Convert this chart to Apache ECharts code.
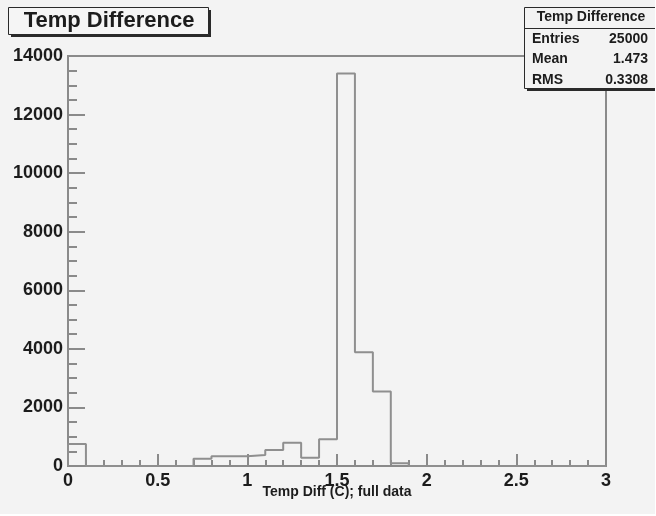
<!DOCTYPE html>
<html>
<head>
<meta charset="utf-8">
<script src="https://cdn.jsdelivr.net/npm/echarts@6/dist/echarts.min.js"></script>
<style>
  html, body { margin: 0; padding: 0; background: #ffffff; }
  #chart { width: 655px; height: 514px; background: #f3f3f3; }
</style>
</head>
<body>
<div id="chart"></div>
<script>
// ---- data ----
const histTitle = 'Temp Difference';
const xAxisTitle = 'Temp Diff (C); full data';
const binLow = 0;
const binHigh = 3;
const binCounts = [
  750, 0, 0, 0, 0, 0, 0, 250, 330, 330,
  375, 546, 796, 284, 912, 13400, 3880, 2540, 90, 0,
  0, 0, 0, 0, 0, 0, 0, 0, 0, 0
];
const xTicks = [0, 0.5, 1, 1.5, 2, 2.5, 3];
const yTicks = [0, 2000, 4000, 6000, 8000, 10000, 12000, 14000];
const statsLabels = ['Entries', 'Mean', 'RMS'];
const statsValues = ['25000', '1.473', '0.3308'];

// ---- build histogram outline from bins ----
const nBins = binCounts.length;
const binW = (binHigh - binLow) / nBins;
const outline = [[binLow, 0]];
for (let i = 0; i < nBins; i++) {
  outline.push([+(binLow + i * binW).toFixed(6), binCounts[i]]);
}
outline.push([binHigh, 0]);

const FONT = '"Liberation Sans", Arial, Helvetica, sans-serif';
const TXT = '#1c1c1c';
const FRAME = '#8a8a8a';

const chart = echarts.init(document.getElementById('chart'), null, { renderer: 'canvas' });

const statsGraphics = [];
statsLabels.forEach((lab, i) => {
  const yc = 40 + i * 20.5;
  statsGraphics.push({
    type: 'text', left: 532, top: yc - 8, z: 102,
    style: { text: lab, font: 'bold 14px ' + FONT, fill: TXT }
  });
  statsGraphics.push({
    type: 'text', right: 7, top: yc - 8, z: 102,
    style: { text: statsValues[i], font: 'bold 14px ' + FONT, fill: TXT, textAlign: 'right' }
  });
});

chart.setOption({
  animation: false,
  backgroundColor: '#f3f3f3',
  grid: {
    left: 68, right: 49, top: 56, bottom: 48,
    show: true, borderColor: FRAME, borderWidth: 2, backgroundColor: 'transparent'
  },
  xAxis: {
    type: 'value',
    min: xTicks[0], max: xTicks[xTicks.length - 1],
    interval: xTicks[1] - xTicks[0],
    name: xAxisTitle,
    nameLocation: 'middle',
    nameGap: 19,
    nameMoveOverlap: false,
    nameTextStyle: { fontFamily: FONT, fontWeight: 'bold', fontSize: 14, color: TXT, padding: [0, 0, 0, 0] },
    axisLine: { show: true, onZero: false, lineStyle: { color: FRAME, width: 2 } },
    axisTick: { show: true, inside: true, length: 12, lineStyle: { color: FRAME, width: 2 } },
    minorTick: { show: true, splitNumber: 5, length: 6, lineStyle: { color: FRAME, width: 2 } },
    splitLine: { show: false },
    axisLabel: {
      margin: 6, fontFamily: FONT, fontWeight: 'bold', fontSize: 18, color: TXT,
      formatter: v => String(v)
    }
  },
  yAxis: {
    type: 'value',
    min: yTicks[0], max: yTicks[yTicks.length - 1],
    interval: yTicks[1] - yTicks[0],
    axisLine: { show: true, onZero: false, lineStyle: { color: FRAME, width: 2 } },
    axisTick: { show: true, inside: true, length: 17, lineStyle: { color: FRAME, width: 2 } },
    minorTick: { show: true, splitNumber: 4, length: 9, lineStyle: { color: FRAME, width: 2 } },
    splitLine: { show: false },
    axisLabel: {
      margin: 5, fontFamily: FONT, fontWeight: 'bold', fontSize: 18, color: TXT,
      formatter: v => String(v)
    }
  },
  series: [{
    type: 'line',
    step: 'end',
    data: outline,
    symbol: 'none',
    lineStyle: { color: '#8f8f8f', width: 2 },
    z: 3
  }],
  graphic: [
    // title box
    { type: 'rect', shape: { x: 11, y: 10, width: 200, height: 27 }, style: { fill: '#2a2a2a' }, z: 100 },
    { type: 'rect', shape: { x: 8.5, y: 7.5, width: 200, height: 27 }, style: { fill: '#f5f5f5', stroke: '#2a2a2a', lineWidth: 1 }, z: 101 },
    { type: 'text', x: 109, y: 21, z: 102,
      style: { text: histTitle, font: 'bold 22px ' + FONT, fill: TXT, textAlign: 'center', textVerticalAlign: 'middle' } },
    // stats box
    { type: 'rect', shape: { x: 527, y: 10, width: 140, height: 81 }, style: { fill: '#2a2a2a' }, z: 100 },
    { type: 'rect', shape: { x: 524.5, y: 7.5, width: 140, height: 81 }, style: { fill: '#f3f3f3', stroke: '#2a2a2a', lineWidth: 1 }, z: 101 },
    { type: 'line', shape: { x1: 524.5, y1: 28.5, x2: 660, y2: 28.5 }, style: { stroke: '#2a2a2a', lineWidth: 1 }, z: 102 },
    { type: 'text', x: 591, y: 17, z: 102,
      style: { text: histTitle, font: 'bold 14px ' + FONT, fill: TXT, textAlign: 'center', textVerticalAlign: 'middle' } },
    ...statsGraphics
  ]
});
</script>
</body>
</html>
